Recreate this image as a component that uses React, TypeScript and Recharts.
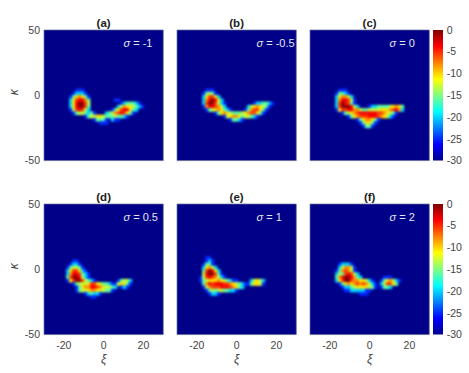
import React from 'react';
import { Bar, BarChart, CartesianGrid, ReferenceArea, Scatter, ScatterChart, XAxis, YAxis } from 'recharts';

const FONT = '"Liberation Sans", Arial, sans-serif';
const TICK = { fill: '#444', fontSize: 10.5, fontFamily: FONT };

// grid: first column / first row, then one step per character
const XI_START = -21;
const XI_STEP = 1.5;
const KAPPA_START = 8.75;
const KAPPA_STEP = -2.5;

// each digit is an index into levelValues (dB), short rows end in background
const levelValues = [-30, -25, -20, -16, -13, -10.5, -8, -5.5, -3.5, -0.5];

const rowsA = [
  '',
  '',
  '00000111',
  '000012221',
  '0001356531',
  '00025788630000000011',
  '000258997400000000001233321',
  '0002589973000000000246554321',
  '00014787420000000135788532',
  '0000134432310002346787531',
  '00000000134455433343321',
  '00000000000133310211',
  '0000000000000111',
  '',
];
const rowsB = [
  '',
  '',
  '0000111',
  '00013431',
  '000257752',
  '0002689852',
  '000279974210000000001223321',
  '00016887642000000024565431',
  '0000134565321000013677531',
  '000000013565433345677531',
  '0000000000145665344321',
  '00000000000013321',
  '',
  '',
];
const rowsC = [
  '',
  '',
  '0000111',
  '00013321',
  '000256642',
  '0002688741',
  '0002798731',
  '00027999842000122333345653',
  '00015778866433444455567862',
  '000001345678888887765431',
  '00000001356777888765421',
  '000000000013566531',
  '00000000000135531',
  '0000000000001331',
];
const rowsD = [
  '',
  '000011',
  '0001221',
  '00134431',
  '002577521',
  '0026887321',
  '0037998421',
  '001579974321000000013442',
  '000013444577543321145531',
  '00000135668876544320121',
  '000001344566544331',
  '00000000123221',
  '000000000011',
  '',
];
const rowsE = [
  '000011',
  '0000121',
  '0001331',
  '00025642',
  '000379852',
  '0004899731',
  '00147876421',
  '001345556543211000024542',
  '000368788877654321135541',
  '00014677788876532',
  '000013434433221',
  '000001221',
  '',
  '',
];
const rowsF = [
  '',
  '',
  '000012221',
  '0000246641',
  '0001367641',
  '00024378742',
  '0003689986320000000111',
  '0002579976655421001356421',
  '000013565676764210247753',
  '0000012234555543101332',
  '000000112222211',
  '00000000000111',
  '',
  '',
];

const panelRows = [rowsA, rowsB, rowsC, rowsD, rowsE, rowsF];
const panelTitles = ['(a)', '(b)', '(c)', '(d)', '(e)', '(f)'];
const sigmaValues = ['-1', '-0.5', '0', '0.5', '1', '2'];
const xiTicks = [-20, 0, 20];
const kappaTicks = [-50, 0, 50];
const colorbarTicks = [-30, -25, -20, -15, -10, -5, 0];

const colLeft = [43.5, 176.5, 309.7];
const rowTop = [30, 204.3];
const PLOT_W = 119.3;
const PLOT_H = 130.6;

const jetStops: [number, number[]][] = [
  [0, [0, 0, 143]],
  [0.125, [0, 0, 255]],
  [0.375, [0, 255, 255]],
  [0.625, [255, 255, 0]],
  [0.875, [255, 0, 0]],
  [1, [128, 0, 0]],
];

const jet = (value: number) => {
  const t = (value + 30) / 30;
  for (let i = 1; i < jetStops.length; i++) {
    const [t0, c0] = jetStops[i - 1];
    const [t1, c1] = jetStops[i];
    if (t <= t1) {
      const f = (t - t0) / (t1 - t0);
      const c = c0.map((v, k) => Math.round(v + (c1[k] - v) * f));
      return `rgb(${c.join(',')})`;
    }
  }
  return 'rgb(128,0,0)';
};

const toCells = (rows: string[]) =>
  rows.flatMap((row, r) =>
    row
      .split('')
      .map((ch, c) => ({
        xi: XI_START + c * XI_STEP,
        kappa: KAPPA_START + r * KAPPA_STEP,
        value: levelValues[Number(ch)],
      }))
      .filter((d) => d.value > -30)
  );

const HeatCell = (props: any) => (
  <rect
    x={props.cx - 1.7}
    y={props.cy - 1.85}
    width={3.4}
    height={3.7}
    fill={jet(props.payload.value)}
  />
);

const Panel = ({ index }: { index: number }) => {
  const col = index % 3;
  const row = Math.floor(index / 3);
  const showY = col === 0;
  const showX = row === 1;
  const left = colLeft[col];
  const top = rowTop[row];
  return (
    <div style={{ position: 'absolute', left: left - 40, top: top - 22 }}>
      <ScatterChart
        width={PLOT_W + 42}
        height={PLOT_H + 22 + 42}
        margin={{ top: 22, right: 2, bottom: showX ? 0 : 42, left: showY ? 0 : 40 }}
      >
        <CartesianGrid horizontal={false} vertical={false} fill="#000088" stroke="none" />
        <XAxis
          type="number"
          dataKey="xi"
          domain={[-30, 30]}
          ticks={xiTicks}
          hide={!showX}
          height={42}
          axisLine={false}
          tickLine={false}
          tickSize={0}
          tickMargin={7}
          tick={TICK}
          interval={0}
          label={{ value: 'ξ', position: 'insideTop', offset: 20, fill: '#444', fontSize: 12, fontStyle: 'italic', fontFamily: FONT }}
        />
        <YAxis
          type="number"
          dataKey="kappa"
          domain={[-50, 50]}
          ticks={kappaTicks}
          hide={!showY}
          width={40}
          axisLine={false}
          tickLine={false}
          tickSize={0}
          tickMargin={4}
          tick={TICK}
          interval={0}
          label={{ value: 'κ', angle: -90, position: 'insideLeft', offset: 10, fill: '#444', fontSize: 12, fontStyle: 'italic', fontFamily: FONT }}
        />
        <Scatter data={toCells(panelRows[index])} shape={HeatCell} isAnimationActive={false} />
        <ReferenceArea x1={-30} x2={30} y1={-50} y2={50} fill="none" stroke="#6a7396" strokeWidth={0.7} />
        <text x={40 + PLOT_W / 2} y={19} textAnchor="middle" fontFamily={FONT} fontWeight="bold" fontSize={11.5} fill="#222">
          {panelTitles[index]}
        </text>
        <text x={40 + 79.5} y={39} fontFamily={FONT} fontSize={11} fill="#e4e4ee">
          <tspan fontStyle="italic">σ</tspan> = {sigmaValues[index]}
        </text>
      </ScatterChart>
    </div>
  );
};

const Colorbar = ({ row }: { row: number }) => {
  const id = `jet-${row}`;
  return (
    <div style={{ position: 'absolute', left: 433.3, top: rowTop[row] - 10 }}>
      <BarChart
        width={36}
        height={PLOT_H + 20}
        data={[{ name: 'scale', span: [-30, 0] }]}
        margin={{ top: 10, right: 0, bottom: 10, left: 0 }}
        barCategoryGap={0}
      >
        <defs>
          <linearGradient id={id} x1="0" y1="1" x2="0" y2="0">
            {jetStops.map(([t, c]) => (
              <stop key={t} offset={t} stopColor={`rgb(${c.join(',')})`} />
            ))}
          </linearGradient>
        </defs>
        <XAxis dataKey="name" hide />
        <YAxis
          orientation="right"
          type="number"
          domain={[-30, 0]}
          ticks={colorbarTicks}
          width={26.3}
          axisLine={false}
          tickLine={false}
          tickSize={0}
          tickMargin={4}
          tick={TICK}
          interval={0}
        />
        <Bar dataKey="span" fill={`url(#${id})`} isAnimationActive={false} />
      </BarChart>
    </div>
  );
};

export default function App() {
  return (
    <div style={{ position: 'absolute', left: 0, top: 0, width: 469, height: 373, background: '#fff', overflow: 'hidden' }}>
      <style>{'.recharts-scatter { filter: blur(1px); }'}</style>
      {panelRows.map((_, i) => (
        <Panel key={i} index={i} />
      ))}
      <Colorbar row={0} />
      <Colorbar row={1} />
    </div>
  );
}
